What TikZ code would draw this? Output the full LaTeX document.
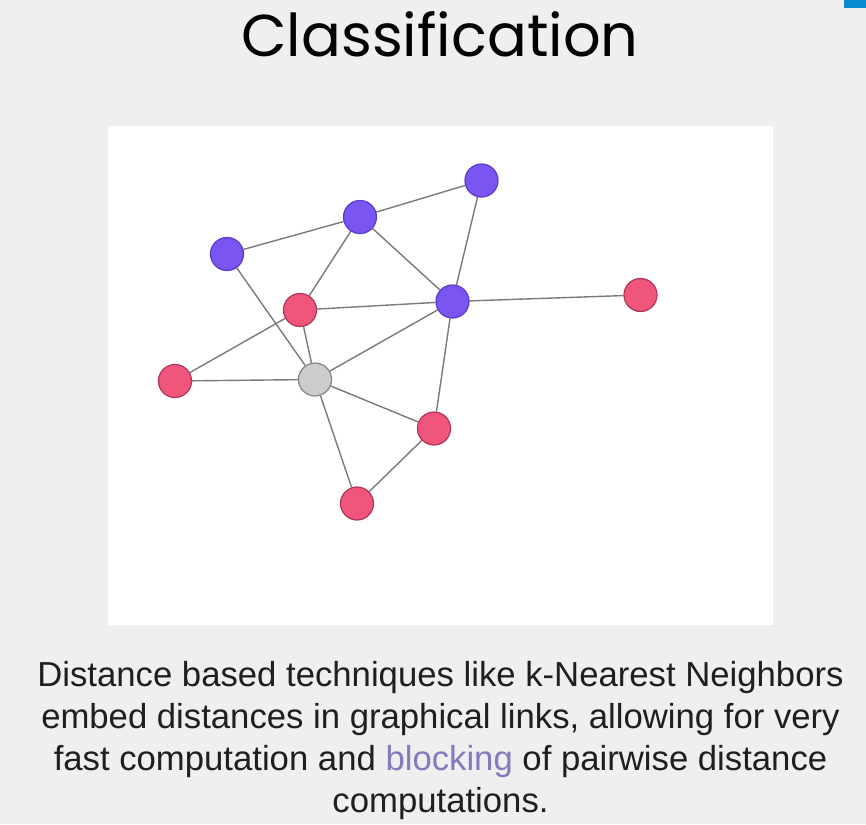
\documentclass[tikz,border=0pt]{standalone}
\usepackage{fontspec}
\setmainfont{Liberation Sans}
\newfontfamily\titlefont{Poppins}
\definecolor{bgc}{HTML}{EFEFEF}
\definecolor{purp}{HTML}{7B55F2}
\definecolor{purpd}{HTML}{5A3AC8}
\definecolor{pinkc}{HTML}{F0567C}
\definecolor{pinkd}{HTML}{B0335A}
\definecolor{grayc}{HTML}{CCCCCC}
\definecolor{grayd}{HTML}{858585}
\definecolor{edgec}{HTML}{7A7A7A}
\definecolor{blk}{HTML}{8878C0}
\definecolor{tabc}{HTML}{0A8AD0}
\pgfdeclarelayer{bglayer}
\pgfdeclarelayer{edgelayer}
\pgfsetlayers{bglayer,edgelayer,main}
\tikzset{
  vx/.style={circle, minimum size=33pt, inner sep=0pt, line width=1.2pt},
  pv/.style={vx, fill=purp, draw=purpd},
  kv/.style={vx, fill=pinkc, draw=pinkd},
  gv/.style={vx, fill=grayc, draw=grayd},
  ed/.style={draw=edgec, line width=1.4pt},
}
\begin{document}
\begin{tikzpicture}[x=1pt,y=-1pt]
\useasboundingbox (0,0) rectangle (866,824);
\begin{pgfonlayer}{bglayer}
\fill[bgc] (0,0) rectangle (866,824);
\fill[tabc] (844,0) rectangle (866,8);
\fill[white] (108,126) rectangle (773,625);
\end{pgfonlayer}
\node[font=\titlefont\fontsize{59}{59}\selectfont, anchor=base] (title) at (440,57) {Classification};
% vertices
\node[pv] (A) at (481.5,180.5) {};
\node[pv] (B) at (360,217) {};
\node[pv] (C) at (227,254) {};
\node[pv] (D) at (452.5,301.5) {};
\node[kv] (E) at (300,310) {};
\node[kv] (F) at (175,381) {};
\node[gv] (G) at (315,379.5) {};
\node[kv] (H) at (434,428.5) {};
\node[kv] (I) at (357,503.5) {};
\node[kv] (J) at (640.5,295) {};
\begin{pgfonlayer}{edgelayer}
\path[ed] (C) -- (B) (B) -- (A) (B) -- (E) (B) -- (D) (A) -- (D) (D) -- (J)
  (E) -- (D) (E) -- (F) (C) -- (G) (E) -- (G) (F) -- (G) (G) -- (D)
  (G) -- (H) (G) -- (I) (D) -- (H) (H) -- (I);
\end{pgfonlayer}
% caption
\node[font=\fontsize{34.7}{42}\selectfont, text=black!88, align=center, anchor=base, inner sep=0pt] (cap) at (440.5,812)
  {Distance based techniques like k-Nearest Neighbors\\
   embed distances in graphical links, allowing for very\\
   fast computation and \textcolor{blk}{blocking} of pairwise distance\\
   computations.};
\end{tikzpicture}
\end{document}
